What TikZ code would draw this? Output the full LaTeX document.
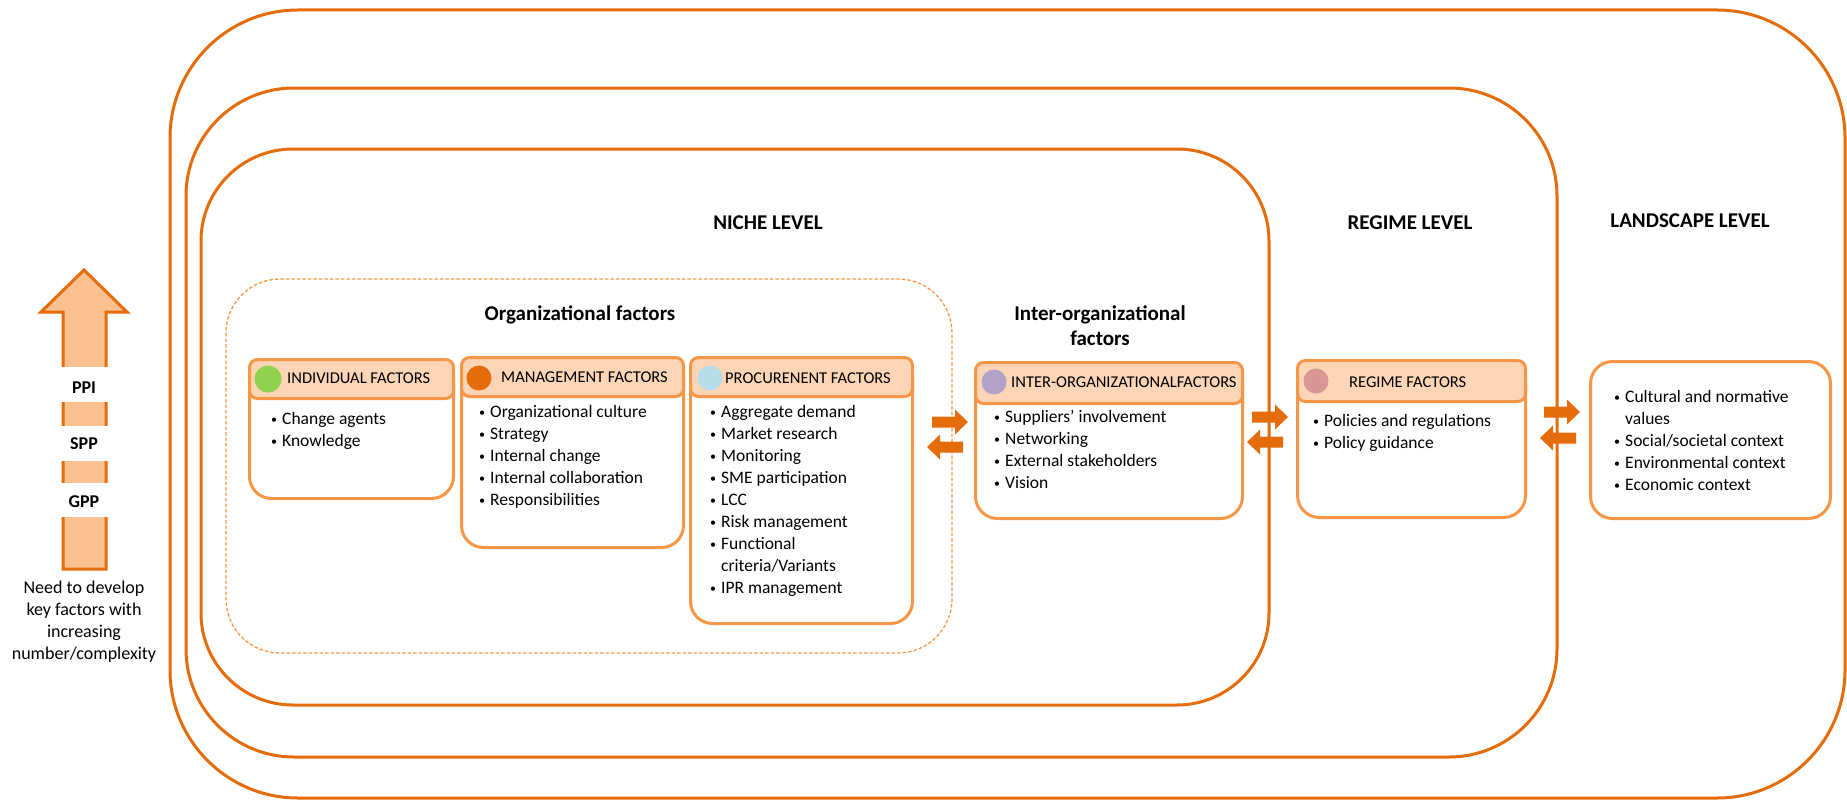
\documentclass[tikz,border=0pt]{standalone}
\usepackage{fontspec}
\setmainfont{Carlito}
\definecolor{dorange}{HTML}{E46C0A}
\definecolor{lorange}{HTML}{F79646}
\definecolor{peach}{HTML}{FBD5B5}
\definecolor{apricot}{HTML}{FAC090}
\definecolor{cgreen}{HTML}{92D050}
\definecolor{cblue}{HTML}{B7DEE8}
\definecolor{cpurple}{HTML}{B3A2C7}
\definecolor{crose}{HTML}{D99694}
\newcommand\bul{\llap{\raisebox{1pt}{\fontsize{12}{12}\selectfont\textbullet}\hspace{5pt}}}
% factor box: name, left, top, right, header bottom, bottom
\newcommand\factorbox[6]{%
  \node[factorbody, anchor=north west, minimum width={#4-#2}, minimum height={#6-#3}] (#1) at (#2,#3) {};
  \node[factorhead, anchor=north west, minimum width={#4-#2}, minimum height={#5-#3}] (#1-head) at (#2,#3) {};}
% block arrows pointing right / left, given tail x (right) or tip x (left) and centre y
\newcommand\rightblock[3]{%
  \coordinate (#1) at (#2,#3);
  \fill[dorange] (#1) ++(0,-5.5) -- ++(23,0) -- ++(0,-7) -- ++(13,12.5) -- ++(-13,12.5) -- ++(0,-7) -- ++(-23,0) -- cycle;}
\newcommand\leftblock[3]{%
  \coordinate (#1) at (#2,#3);
  \fill[dorange] (#1) -- ++(13,-12.5) -- ++(0,7) -- ++(23,0) -- ++(0,11) -- ++(-23,0) -- ++(0,7) -- cycle;}
\begin{document}
\begin{tikzpicture}[x=1pt,y=-1pt,
  level/.style={draw=dorange, line width=3pt},
  nichedash/.style={draw=lorange, line width=1.3pt, dash pattern=on 3.5pt off 2pt},
  factorbody/.style={draw=lorange, line width=3pt, fill=white, rounded corners=22pt},
  factorhead/.style={draw=lorange, line width=3pt, fill=peach, rounded corners=8pt},
  headtext/.style={font=\fontsize{16.5}{20}\selectfont, anchor=base west, inner sep=0},
  listtext/.style={font=\fontsize{17.5}{22}\selectfont, anchor=base west, inner sep=0},
  leveltitle/.style={font=\bfseries\fontsize{21}{25.5}\selectfont, inner sep=0, anchor=base},
  dot/.style={circle, inner sep=0, minimum size=25pt},
  stagetext/.style={font=\bfseries\fontsize{18}{20}\selectfont, anchor=base, inner sep=0},
  uparrow/.style={draw=dorange, fill=apricot, line width=3pt, line join=miter},
]
\useasboundingbox (0,0) rectangle (1847,800);

% nested level frames
\draw[level, rounded corners=128pt] (170,10) rectangle (1845,798);
\draw[level, rounded corners=108pt] (186,88) rectangle (1557,757);
\draw[level, rounded corners=92pt] (201,149) rectangle (1269,705);
\draw[nichedash, rounded corners=54pt] (226,279) rectangle (952,653);

% level titles
\node[leveltitle] (niche-title) at (768,229) {NICHE LEVEL};
\node[leveltitle] (regime-title) at (1410,229) {REGIME LEVEL};
\node[leveltitle] (land-title) at (1690,227) {LANDSCAPE LEVEL};
\node[leveltitle] (org-title) at (580,320) {Organizational factors};
\node[leveltitle] (inter-title) at (1100,320) {\begin{tabular}[t]{@{}c@{}}Inter-organizational\\factors\end{tabular}};

% factor boxes
\factorbox{ind}{248}{358}{452}{397}{497}
\factorbox{man}{460}{356}{682}{395}{546}
\factorbox{proc}{689}{356}{911}{395}{622}
\factorbox{inter}{974}{361}{1241}{402}{517}
\factorbox{reg}{1296}{359}{1524}{400}{516}
\node[factorbody, anchor=north west, minimum width=240, minimum height=157] (land) at (1589,360) {};

% header dots and titles
\node[dot, fill=cgreen, minimum size=27pt] (ind-dot) at (268,379) {};
\node[dot, fill=dorange] (man-dot) at (479,378) {};
\node[dot, fill=cblue] (proc-dot) at (710,378) {};
\node[dot, fill=cpurple] (inter-dot) at (994,382) {};
\node[dot, fill=crose] (reg-dot) at (1316,381) {};
\node[headtext] (ind-name) at (287,383) {INDIVIDUAL FACTORS};
\node[headtext] (man-name) at (501,382) {MANAGEMENT FACTORS};
\node[headtext] (proc-name) at (725,383) {PROCURENENT FACTORS};
\node[headtext] (inter-name) at (1011,387) {INTER-ORGANIZATIONALFACTORS};
\node[headtext] (reg-name) at (1349,387) {REGIME FACTORS};

% factor lists
\node[listtext] (ind-list) at (282,424) {\begin{tabular}[t]{@{}l@{}}
  \bul Change agents\\ \bul Knowledge\end{tabular}};
\node[listtext] (man-list) at (490,417) {\begin{tabular}[t]{@{}l@{}}
  \bul Organizational culture\\ \bul Strategy\\ \bul Internal change\\
  \bul Internal collaboration\\ \bul Responsibilities\end{tabular}};
\node[listtext] (proc-list) at (721,417) {\begin{tabular}[t]{@{}l@{}}
  \bul Aggregate demand\\ \bul Market research\\ \bul Monitoring\\
  \bul SME participation\\ \bul LCC\\ \bul Risk management\\
  \bul Functional\\ criteria/Variants\\ \bul IPR management\end{tabular}};
\node[listtext] (inter-list) at (1005,422) {\begin{tabular}[t]{@{}l@{}}
  \bul Suppliers’ involvement\\ \bul Networking\\ \bul External stakeholders\\
  \bul Vision\end{tabular}};
\node[listtext] (reg-list) at (1324,426) {\begin{tabular}[t]{@{}l@{}}
  \bul Policies and regulations\\ \bul Policy guidance\end{tabular}};
\node[listtext] (land-list) at (1625,402) {\begin{tabular}[t]{@{}l@{}}
  \bul Cultural and normative\\ values\\ \bul Social/societal context\\
  \bul Environmental context\\ \bul Economic context\end{tabular}};

% exchange arrows between levels
\rightblock{a1}{932}{422}
\leftblock{a2}{927}{447}
\rightblock{a3}{1252}{417}
\leftblock{a4}{1247}{442}
\rightblock{a5}{1544}{412}
\leftblock{a6}{1540}{438}

% progression arrow GPP -> SPP -> PPI
\draw[uparrow] (63,569) -- (63,312) -- (41,312) -- (84,270) -- (127,312) -- (106,312) -- (106,569) -- cycle;
\fill[white] (58,367) rectangle (111,402);
\fill[white] (58,426) rectangle (111,461);
\fill[white] (58,483) rectangle (111,517);
\node[stagetext] (ppi) at (84,393) {PPI};
\node[stagetext] (spp) at (84,449) {SPP};
\node[stagetext] (gpp) at (84,507) {GPP};
\node[font=\fontsize{18}{22}\selectfont, anchor=base, inner sep=0] (need) at (84,593)
  {\begin{tabular}[t]{@{}c@{}}Need to develop\\key factors with\\increasing\\number/complexity\end{tabular}};
\end{tikzpicture}
\end{document}
